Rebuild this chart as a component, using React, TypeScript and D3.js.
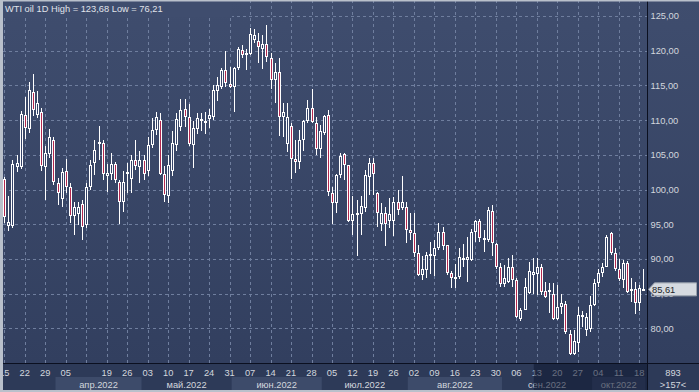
import React from 'react';
import * as d3 from 'd3';

// WTI daily candles, 15.03.2022 .. 19.10.2022
const opens = [
  101.5, 94.7, 94.8, 103.3, 103.3, 110.7, 108.7, 114.1, 110.7, 111.1,
  103.3, 105.1, 107.1, 101.0, 98.6, 102.7, 100.3, 96.2, 96.5, 97.9,
  94.9, 100.3, 103.8, 106.6, 106.7, 102.0, 102.2, 103.7, 101.1, 98.2,
  102.2, 101.5, 104.3, 103.3, 104.2, 102.6, 106.4, 108.6, 110.0, 102.3,
  99.1, 102.6, 106.4, 109.0, 111.6, 110.5, 106.4, 108.7, 109.9, 109.8,
  110.2, 110.5, 114.2, 114.8, 117.2, 115.2, 114.7, 117.5, 120.1, 119.5,
  119.5, 121.5, 121.4, 120.3, 121.0, 119.0, 115.8, 116.9, 110.4, 106.6,
  109.2, 104.4, 103.9, 107.1, 109.8, 111.7, 109.6, 105.9, 108.1, 110.7,
  99.5, 98.1, 102.1, 105.1, 103.5, 95.5, 96.4, 96.4, 97.3, 101.8,
  103.8, 99.5, 95.0, 96.6, 95.4, 95.4, 98.2, 97.3, 97.5, 94.2,
  93.7, 90.9, 87.7, 88.4, 90.5, 90.4, 91.5, 93.9, 92.0, 87.9,
  87.1, 87.4, 90.0, 89.9, 89.8, 93.9, 95.4, 93.0, 92.7, 96.9,
  92.2, 88.8, 86.4, 86.6, 88.9, 86.9, 81.4, 82.7, 85.1, 87.7,
  87.8, 88.9, 85.4, 85.3, 85.0, 81.3, 83.0, 83.5, 79.2, 76.3,
  77.9, 81.9, 79.8, 79.9, 83.4, 86.5, 87.9, 88.9, 93.7, 90.8,
  88.6, 87.0, 89.4, 85.4, 85.6, 83.6, 85.5,
];
const highs = [
  101.8, 99.0, 104.3, 105.0, 111.3, 113.4, 115.5, 116.6, 114.2, 111.8,
  106.3, 108.7, 107.6, 101.7, 103.1, 104.4, 101.0, 98.2, 98.2, 98.5,
  101.0, 104.3, 107.1, 109.1, 107.1, 103.7, 105.3, 104.0, 101.3, 102.6,
  103.8, 105.0, 107.1, 105.6, 105.0, 107.6, 110.3, 111.2, 111.0, 103.4,
  105.0, 108.5, 111.0, 113.0, 113.1, 112.3, 109.8, 111.0, 111.0, 111.2,
  111.6, 115.0, 116.2, 117.5, 119.9, 117.7, 117.7, 120.6, 120.8, 120.3,
  123.2, 123.1, 122.5, 122.3, 123.7, 119.7, 118.2, 118.9, 112.5, 112.5,
  109.6, 107.1, 108.6, 110.0, 112.9, 114.5, 110.5, 109.3, 110.8, 111.5,
  100.4, 102.3, 105.2, 105.3, 103.6, 99.0, 98.5, 99.1, 102.8, 104.5,
  104.5, 99.7, 98.1, 97.5, 98.8, 98.9, 99.9, 101.9, 98.2, 96.6,
  96.6, 92.0, 90.4, 91.0, 92.5, 92.7, 95.2, 94.6, 92.0, 88.2,
  89.3, 91.5, 92.1, 93.2, 94.3, 95.6, 95.8, 94.2, 97.5, 97.8,
  92.3, 89.4, 89.1, 90.2, 90.5, 87.2, 82.9, 87.2, 89.6, 90.2,
  90.2, 89.3, 86.6, 86.5, 86.5, 86.2, 85.0, 84.0, 79.8, 79.8,
  83.0, 82.5, 82.2, 84.7, 87.1, 88.6, 89.4, 93.4, 93.9, 91.5,
  90.0, 89.9, 89.7, 87.2, 86.7, 86.3, 88.5,
];
const lows = [
  95.2, 94.0, 94.5, 102.5, 103.0, 107.3, 108.2, 110.6, 110.3, 102.6,
  98.5, 104.5, 100.7, 97.8, 97.5, 99.5, 95.2, 93.4, 94.9, 92.7,
  94.4, 100.0, 102.1, 104.3, 101.4, 99.7, 101.4, 101.0, 95.1, 96.8,
  99.5, 99.5, 102.8, 101.0, 101.3, 102.0, 106.0, 107.9, 102.1, 98.2,
  98.0, 102.0, 105.5, 108.5, 109.0, 106.2, 103.1, 108.0, 108.4, 108.0,
  108.9, 110.0, 112.8, 114.5, 114.8, 114.6, 111.2, 117.2, 118.9, 117.2,
  119.4, 121.1, 118.2, 117.4, 118.3, 114.5, 112.5, 107.7, 107.6, 105.4,
  101.5, 102.4, 103.0, 105.6, 109.6, 109.6, 105.0, 104.5, 107.8, 99.0,
  95.1, 96.6, 101.6, 101.4, 95.3, 93.4, 90.4, 93.5, 96.8, 99.2,
  99.2, 94.6, 94.0, 91.8, 94.5, 93.3, 96.3, 97.1, 92.3, 92.7,
  90.3, 87.5, 87.0, 87.2, 87.8, 87.5, 91.3, 91.3, 87.7, 85.8,
  85.8, 87.1, 88.9, 86.6, 89.7, 92.5, 92.5, 91.0, 92.5, 90.4,
  88.5, 86.0, 86.0, 86.5, 86.0, 81.5, 81.1, 82.6, 84.9, 85.0,
  84.8, 84.8, 84.3, 82.2, 81.2, 81.2, 82.0, 79.2, 76.2, 76.2,
  76.6, 80.2, 78.9, 79.5, 83.2, 86.0, 87.4, 88.8, 90.6, 88.2,
  86.8, 85.8, 85.1, 83.8, 82.1, 82.5, 85.4,
];
const closes = [
  96.0, 95.3, 103.7, 103.8, 110.9, 108.8, 114.3, 111.4, 112.5, 103.4,
  105.3, 107.6, 101.1, 99.5, 102.5, 100.3, 96.2, 97.5, 97.5, 94.6,
  100.4, 103.5, 105.7, 106.8, 102.2, 102.4, 103.7, 101.4, 98.2, 101.1,
  102.5, 104.3, 103.4, 104.3, 102.3, 106.4, 108.6, 110.5, 102.3, 99.2,
  103.5, 106.7, 110.1, 111.5, 110.4, 106.6, 108.9, 110.3, 110.1, 109.6,
  110.7, 114.3, 115.1, 117.2, 115.3, 114.7, 117.5, 120.2, 119.4, 119.7,
  122.4, 122.3, 120.5, 121.0, 119.1, 115.8, 116.9, 110.4, 111.1, 110.4,
  104.4, 104.0, 107.1, 109.8, 111.8, 109.7, 105.9, 108.5, 110.6, 99.7,
  98.1, 102.1, 104.8, 103.5, 95.5, 96.5, 96.6, 97.6, 102.1, 103.8,
  102.3, 96.6, 96.6, 95.0, 96.5, 98.2, 97.1, 98.2, 94.2, 93.8,
  90.9, 87.7, 88.6, 90.6, 90.7, 91.5, 93.9, 91.8, 87.9, 87.2,
  87.4, 90.3, 90.2, 90.3, 93.9, 95.4, 93.0, 92.8, 97.0, 92.3,
  88.8, 86.4, 87.2, 88.9, 86.9, 81.7, 82.7, 86.0, 88.2, 88.1,
  88.9, 85.3, 84.5, 85.5, 81.3, 83.1, 83.6, 79.4, 76.3, 78.1,
  81.9, 81.7, 81.7, 83.4, 86.5, 88.0, 88.9, 93.2, 90.8, 88.6,
  87.1, 89.4, 85.3, 85.6, 83.6, 85.8, 85.61,
];

// weekly tick labels, one every 5 bars (the 12.04 label is not shown)
const dayLabels = [
  '15', '22', '29', '05', '', '19', '26', '03', '10', '17', '24', '31',
  '07', '14', '21', '28', '05', '12', '19', '26', '02', '09', '16', '23',
  '30', '06', '13', '20', '27', '04', '11', '18',
];
const monthNames = ['', 'апр.2022', 'май.2022', 'июн.2022', 'июл.2022', 'авг.2022', 'сен.2022', 'окт.2022'];
const monthFirstBar = [0, 13, 34, 56, 78, 99, 122, 144];
const priceTicks = [80, 85, 90, 95, 100, 105, 110, 115, 120, 125];
const lastPrice = 85.61;
const title = 'WTI oil 1D High = 123,68 Low = 76,21';
const barCount = '893';
const visibleBars = '>157<';
const shadedFromBar = 130;

const W = 699;
const H = 392;
const plotRight = 647;
const axisY = 363;
const font = '"Liberation Sans", Arial, sans-serif';
const textColor = '#d3d7de';
const upRed = '#b3284f';

const fmt = (v: number) => d3.format('.2f')(v).replace('.', ',');

export default function App() {
  const n = opens.length;
  const x = d3.scaleLinear().domain([0, n - 1]).range([4.3, 643.3]);
  const y = d3.scaleLinear().domain([75, 125]).range([axisY, 16]);
  const step = x(1) - x(0);

  const monthEnds = monthFirstBar.map((f, k) => (k < monthFirstBar.length - 1 ? monthFirstBar[k + 1] - 1 : n - 1));
  const yLast = y(lastPrice);

  return (
    <svg width={W} height={H} style={{ position: 'absolute', left: 0, top: 0 }} fontFamily={font}>
      <defs>
        <linearGradient id="bg" x1="0" y1="0" x2="0" y2="1">
          <stop offset="0" stopColor="#3f4d6e" />
          <stop offset="1" stopColor="#323f5f" />
        </linearGradient>
      </defs>
      <rect x={0} y={0} width={W} height={axisY} fill="url(#bg)" />

      {/* grid */}
      <g stroke="#6f7e9e" strokeDasharray="3,3" strokeWidth={1}>
        {dayLabels.map((_, k) => (
          <line key={'v' + k} x1={Math.round(x(k * 5)) + 0.5} x2={Math.round(x(k * 5)) + 0.5} y1={0} y2={axisY} />
        ))}
        {priceTicks.map((t) => (
          <line key={'h' + t} x1={3} x2={plotRight} y1={Math.round(y(t)) + 0.5} y2={Math.round(y(t)) + 0.5} />
        ))}
      </g>
      <rect x={3} y={0} width={229} height={17} fill="#3f4d6e" />

      {/* candles */}
      <g shapeRendering="crispEdges">
        {opens.map((o, i) => {
          const c = closes[i];
          const rx = Math.round(x(i)) - 1;
          const wx = rx + 1.5;
          const top = Math.round(y(Math.max(o, c)));
          let bot = Math.round(y(Math.min(o, c)));
          if (bot - top < 2) bot = top + 2;
          const hi = Math.round(y(highs[i]));
          const lo = Math.round(y(lows[i]));
          const down = c < o;
          return (
            <g key={i}>
              {hi < top && <line x1={wx} x2={wx} y1={hi} y2={top} stroke="#fff" />}
              {lo > bot && <line x1={wx} x2={wx} y1={bot} y2={lo} stroke="#fff" />}
              <rect x={rx} y={top} width={3} height={bot - top} fill="#fff" />
              {bot - top > 2 && (
                <rect x={rx + 1} y={top + 1} width={1} height={bot - top - 2} fill={down ? upRed : '#36446a'} />
              )}
            </g>
          );
        })}
      </g>

      <text x={5} y={11.5} fontSize={9.3} fill="#e0e3ea">{title}</text>

      {/* price axis */}
      {priceTicks.map((t) => (
        <text key={'p' + t} x={650.5} y={y(t) + 3.4} fontSize={9.3} fill={textColor}>{fmt(t)}</text>
      ))}
      <path
        d={`M648.5,${yLast} L654.5,${yLast - 6.5} H696.5 V${yLast + 6.5} H654.5 Z`}
        fill="#d6dae0"
        stroke="#9aa1ac"
      />
      <text x={652} y={yLast + 3.4} fontSize={9.3} fill="#1c1f26">{fmt(lastPrice)}</text>

      {/* time axis */}
      <rect x={0} y={axisY} width={W} height={H - axisY} fill="#2d3a58" />
      {monthNames.map((m, k) => {
        const x0 = x(monthFirstBar[k]) - step / 2;
        const x1 = Math.min(x(monthEnds[k]) + step / 2, plotRight);
        return (
          <g key={'m' + k}>
            {k % 2 === 1 && <rect x={x0} y={377} width={x1 - x0} height={13} fill="#3d4b6a" />}
            {m && (
              <text x={(x0 + x1) / 2} y={387.5} fontSize={9.3} fill={textColor} textAnchor="middle">{m}</text>
            )}
          </g>
        );
      })}
      {dayLabels.map((d, k) => (
        <text key={'d' + k} x={x(k * 5)} y={375.5} fontSize={9.3} fill={textColor} textAnchor="middle">{d}</text>
      ))}
      <rect
        x={x(shadedFromBar) - 3}
        y={axisY}
        width={plotRight - (x(shadedFromBar) - 3)}
        height={27}
        fill="#0e1731"
        opacity={0.55}
      />
      <text x={673} y={375.5} fontSize={9.3} fill={textColor} textAnchor="middle">{barCount}</text>
      <text x={673} y={387.5} fontSize={9.3} fill={textColor} textAnchor="middle">{visibleBars}</text>

      {/* frame */}
      <line x1={plotRight + 0.5} x2={plotRight + 0.5} y1={0} y2={390} stroke="#0b1020" />
      <line x1={0} x2={W} y1={axisY + 0.5} y2={axisY + 0.5} stroke="#0b1020" />
      <rect x={0} y={0} width={W} height={1.5} fill="#b9c0cb" />
      <rect x={0} y={0} width={3} height={H} fill="#b9c0cb" />
      <rect x={0} y={390} width={W} height={2} fill="#b9c0cb" />
    </svg>
  );
}
